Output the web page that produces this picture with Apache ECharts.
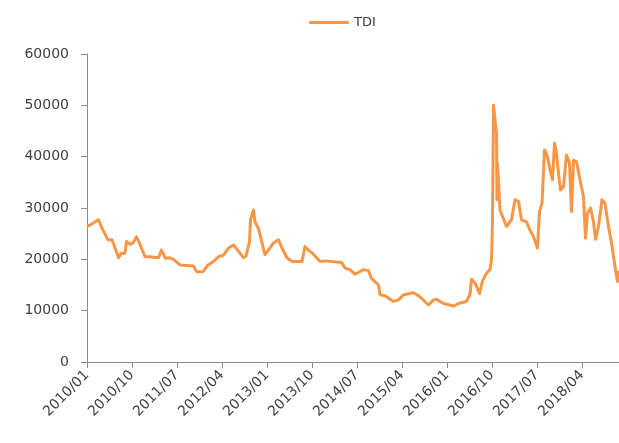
<!DOCTYPE html>
<html>
<head>
<meta charset="utf-8">
<script src="https://cdn.jsdelivr.net/npm/echarts@6/dist/echarts.min.js"></script>
<style>
html, body { margin: 0; padding: 0; background: #fff; }
#myChart { width: 619px; height: 443px; }
</style>
</head>
<body>
<div id="myChart"></div>
<script>
// months since 2010/01 (fractional) and TDI price
var monthIdx = [
  0, 0.8, 2.3, 3.2, 4.2, 5.0, 5.4, 6.3, 6.9, 7.6, 7.9, 8.6, 9.2, 9.9, 10.3, 10.6,
  11.6, 12.6, 14.3, 14.9, 15.3, 15.7, 16.6, 17.3, 18.6, 21.3, 21.9, 23.2, 24.2,
  25.3, 26.3, 27.3, 28.3, 29.3, 30.3, 31.3, 31.8, 32.5, 32.7, 33.3, 33.6, 34.3,
  35.0, 35.6, 36.3, 37.3, 38.3, 39.0, 40.0, 41.0, 43.0, 43.6, 44.3, 45.3, 46.6,
  47.6, 50.9, 51.6, 52.6, 53.6, 55.3, 56.3, 56.9, 58.3, 58.6, 59.6, 61.3, 62.3,
  63.3, 65.3, 66.6, 68.3, 69.3, 69.9, 71.3, 73.3, 74.3, 75.9, 76.6, 76.9, 77.6,
  78.5, 79.1, 79.9, 80.6, 80.9, 81.1, 81.3, 81.6, 81.9, 82.0, 82.1, 82.6, 83.9,
  84.9, 85.6, 86.3, 86.9, 87.9, 88.6, 89.3, 90.1, 90.5, 91.0, 91.5, 92.0, 92.5,
  93.1, 93.5, 93.8, 94.3, 94.7, 95.3, 95.9, 96.5, 96.9, 97.3, 97.9, 98.6, 99.3,
  99.7, 100.1, 100.7, 101.3, 101.7, 102.3, 103.0, 103.6, 104.3, 104.9, 105.6,
  106.1, 106.3
];
var tdi = [
  26400, 26800, 27700, 25700, 23800, 23800, 22800, 20300, 21200, 21200, 23500, 22900, 23200, 24400, 24400, 22900,
  20500, 20500, 20300, 21800, 21800, 20200, 20300, 20000, 18900, 18700, 17600, 17600, 18900,
  19600, 20500, 20800, 22200, 22800, 21600, 20300, 20600, 23500, 27700, 29600, 27300, 26000,
  23200, 20900, 21800, 23200, 23800, 22200, 20300, 19600, 19600, 22500, 21800, 21000, 19600,
  19700, 19400, 18300, 18000, 17100, 18000, 17800, 16300, 15000, 13100, 12900, 11800, 12100,
  13100, 13500, 12700, 11100, 12100, 12200, 11400, 10900, 11400, 11800, 13200, 16100, 15400,
  13300, 15800, 17300, 18000, 19900, 27300, 50000, 50000, 44500, 31600, 38700, 29600, 26400,
  27700, 31600, 31300, 27700, 27300, 25700, 24400, 22200, 29300, 30900, 41300, 40300, 38000,
  35500, 42600, 41300, 36800, 33500, 34200, 40300, 38700, 29300, 39300, 39000, 35500, 32200,
  24100, 29000, 30000, 27300, 23900, 26400, 31600, 30900, 26400, 23200, 18600,
  15700, 17800
];
var seriesName = 'TDI';
var startYear = 2010;

var points = [];
for (var i = 0; i < monthIdx.length; i++) {
  points.push([monthIdx[i], tdi[i]]);
}

function monthLabel(v) {
  var m = Math.round(v);
  var y = startYear + Math.floor(m / 12);
  var mm = (m % 12) + 1;
  return y + '/' + (mm < 10 ? '0' + mm : mm);
}

var myChart = echarts.init(document.getElementById('myChart'));
var axisColor = '#8c8c8c';
var textColor = '#404040';
myChart.setOption({
  animation: false,
  textStyle: { fontFamily: 'DejaVu Sans' },
  legend: {
    data: [seriesName],
    left: 304,
    top: 11,
    icon: 'roundRect',
    itemWidth: 40,
    itemHeight: 3,
    itemGap: 4,
    textStyle: { fontSize: 13, color: textColor, fontFamily: 'DejaVu Sans' }
  },
  grid: {
    left: 87,
    right: 0,
    top: 54,
    bottom: 81,
    containLabel: false
  },
  xAxis: {
    type: 'value',
    min: 0,
    max: 106.4,
    interval: 9,
    splitLine: { show: false },
    axisLine: { show: true, lineStyle: { color: axisColor, width: 1 } },
    axisTick: { show: true, length: 6, lineStyle: { color: axisColor } },
    axisLabel: {
      rotate: 45,
      margin: 11,
      fontSize: 14,
      color: textColor,
      showMaxLabel: false,
      formatter: monthLabel
    }
  },
  yAxis: {
    type: 'value',
    min: 0,
    max: 60000,
    interval: 10000,
    splitLine: { show: false },
    axisLine: { show: true, lineStyle: { color: axisColor, width: 1 } },
    axisTick: { show: true, length: 6, lineStyle: { color: axisColor } },
    axisLabel: {
      fontSize: 14,
      color: textColor,
      margin: 18,
      formatter: function (v) { return String(v); }
    }
  },
  series: [{
    name: seriesName,
    type: 'line',
    data: points,
    showSymbol: false,
    symbol: 'none',
    lineStyle: { color: '#F79646', width: 3, join: 'round' },
    itemStyle: { color: '#F79646' }
  }]
});
</script>
</body>
</html>
